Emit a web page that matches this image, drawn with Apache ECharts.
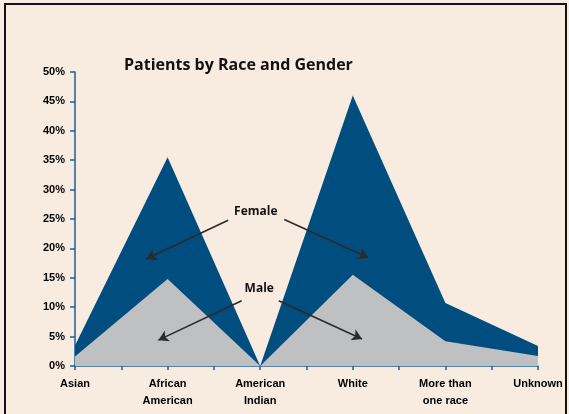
<!DOCTYPE html>
<html>
<head>
<meta charset="utf-8">
<script src="https://cdn.jsdelivr.net/npm/echarts@6/dist/echarts.min.js"></script>
<style>
  html, body { margin: 0; padding: 0; background: #f7ecdf; }
  #chart { width: 569px; height: 414px; }
</style>
</head>
<body>
<div id="chart"></div>
<script>
// categories along x (index 0..5)
var categories = ['Asian', 'African\nAmerican', 'American\nIndian', 'White', 'More than\none race', 'Unknown']
// male share (%), bottom layer
var maleValues = [1.6, 14.8, 0, 15.5, 4.2, 1.7]
// female share (%), sits on top of male
var femaleValues = [1.9, 20.7, 0, 30.5, 6.5, 1.7]
var yTicks = [0, 5, 10, 15, 20, 25, 30, 35, 40, 45, 50]

var labelFont = '"Liberation Sans", Arial, sans-serif'

// male as [x, y]; female drawn as the upper edge (male + female)
var maleData = maleValues.map(function (v, i) { return [i, v] })
var femaleData = femaleValues.map(function (v, i) { return [i, v + maleValues[i]] })

var arrowStyle = { color: '#2b2b2b', width: 1.6, type: 'solid' }
var noteLabel = {
  show: true,
  formatter: '{b}',
  fontFamily: '"Open Sans", sans-serif',
  fontWeight: 'bold',
  fontSize: 12,
  color: '#111'
}

var chart = echarts.init(document.getElementById('chart'))
chart.setOption({
  backgroundColor: '#f7ecdf',
  animation: false,
  title: {
    text: 'Patients by Race and Gender',
    left: 119,
    top: 52,
    textStyle: { fontFamily: '"Open Sans", sans-serif', fontWeight: 'bold', fontSize: 16, color: '#111' }
  },
  graphic: [{
    type: 'rect',
    shape: { x: 5, y: 4, width: 561, height: 430 },
    style: { fill: 'none', stroke: '#111', lineWidth: 2 },
    silent: true
  }],
  grid: { left: 75, right: 31, top: 72, bottom: 48 },
  xAxis: {
    type: 'value',
    min: 0,
    max: categories.length - 1,
    interval: 0.5,
    splitLine: { show: false },
    axisLine: { lineStyle: { color: '#1f5f95', width: 1.5 } },
    axisTick: { show: true, length: 4, lineStyle: { color: '#1f5f95', width: 1.5 } },
    axisLabel: {
      margin: 9,
      fontFamily: labelFont,
      fontWeight: 'bold',
      fontSize: 11,
      lineHeight: 17,
      color: '#000',
      verticalAlign: 'top',
      formatter: function (v) {
        return Number.isInteger(v) ? categories[v] : ''
      }
    }
  },
  yAxis: {
    type: 'value',
    min: yTicks[0],
    max: yTicks[yTicks.length - 1],
    interval: 5,
    splitLine: { show: false },
    axisLine: { show: true, lineStyle: { color: '#1f5f95', width: 1.5 } },
    axisTick: { show: true, length: 5, lineStyle: { color: '#1f5f95', width: 1.5 } },
    axisLabel: {
      margin: 10,
      fontFamily: labelFont,
      fontWeight: 'bold',
      fontSize: 11,
      color: '#000',
      formatter: '{value}%'
    }
  },
  series: [
    {
      name: 'Female',
      type: 'line',
      data: femaleData,
      symbol: 'none',
      lineStyle: { width: 0 },
      areaStyle: { color: '#004e80', opacity: 1 },
      z: 2,
      markLine: {
        silent: true,
        symbol: ['none', 'arrow'],
        symbolSize: [9, 10],
        lineStyle: arrowStyle,
        label: { show: false },
        data: [
          [{ coord: [1.654, 24.8] }, { coord: [0.768, 18.2] }],
          [{ coord: [2.26, 24.9] }, { coord: [3.168, 18.4] }]
        ]
      },
      markPoint: {
        silent: true,
        symbol: 'circle',
        symbolSize: 0,
        label: noteLabel,
        data: [{ name: 'Female', coord: [1.953, 26.2] }]
      }
    },
    {
      name: 'Male',
      type: 'line',
      data: maleData,
      symbol: 'none',
      lineStyle: { width: 0 },
      areaStyle: { color: '#bfc0c2', opacity: 1 },
      z: 3,
      markLine: {
        silent: true,
        symbol: ['none', 'arrow'],
        symbolSize: [9, 10],
        lineStyle: arrowStyle,
        label: { show: false },
        data: [
          [{ coord: [1.80, 11.1] }, { coord: [0.90, 4.4] }],
          [{ coord: [2.20, 11.1] }, { coord: [3.10, 4.6] }]
        ]
      },
      markPoint: {
        silent: true,
        symbol: 'circle',
        symbolSize: 0,
        label: noteLabel,
        data: [{ name: 'Male', coord: [1.99, 13.2] }]
      }
    }
  ]
})
</script>
</body>
</html>
